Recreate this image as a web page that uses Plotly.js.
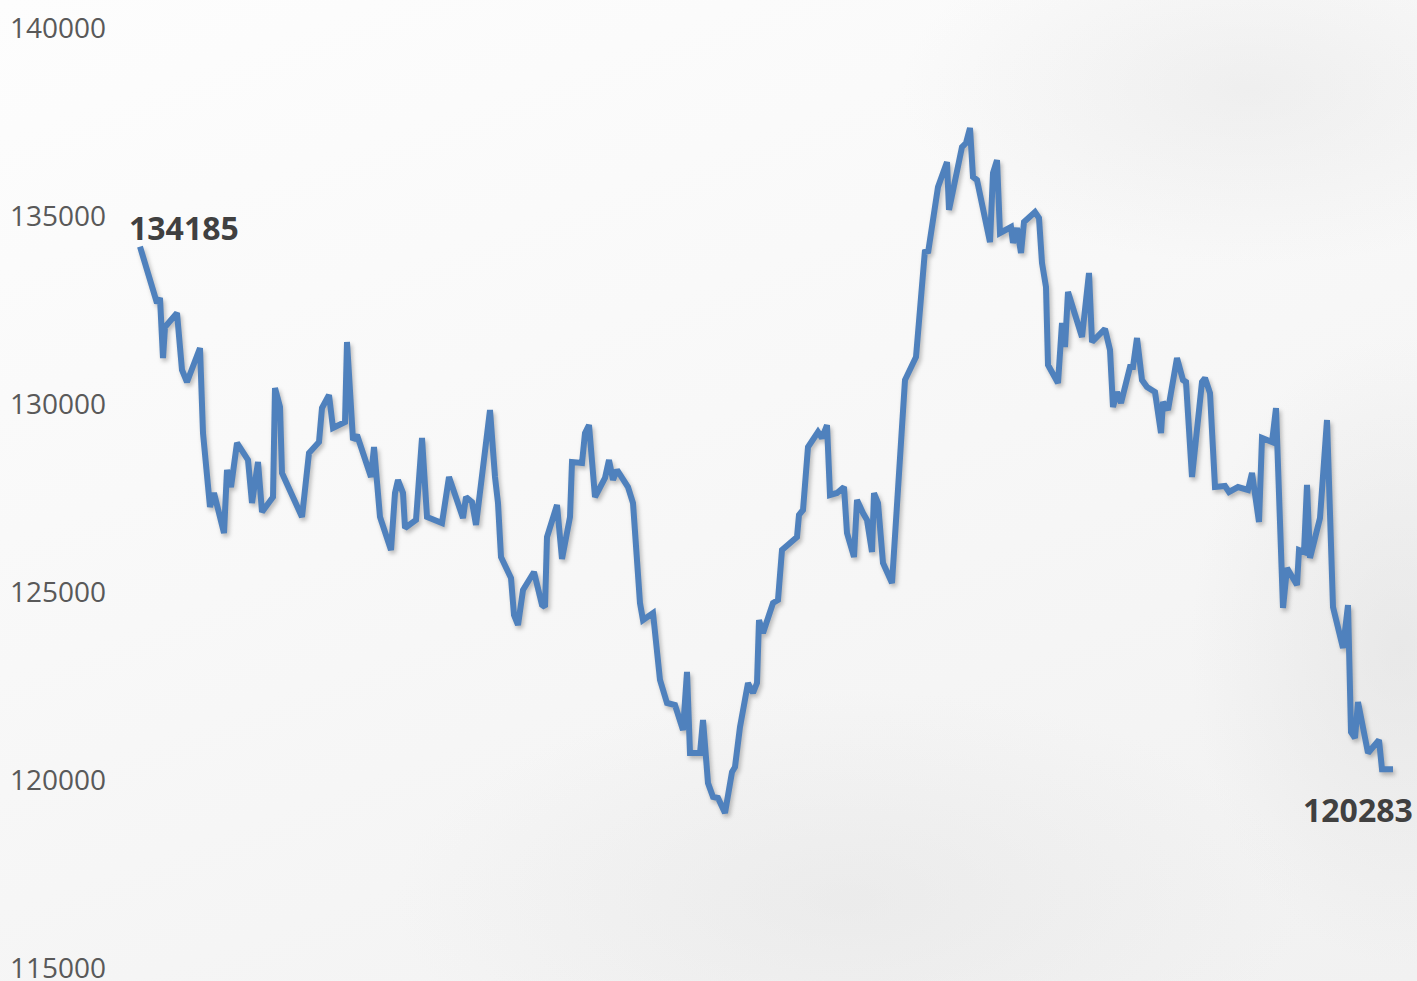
<!DOCTYPE html>
<html>
<head>
<meta charset="utf-8">
<script src="https://cdn.plot.ly/plotly-3.0.1.min.js"></script>
<style>
  html, body { margin: 0; padding: 0; width: 1417px; height: 981px; overflow: hidden; }
  body {
    background:
      radial-gradient(ellipse 500px 250px at 1250px 90px, rgba(215,215,215,0.30), rgba(215,215,215,0) 70%),
      radial-gradient(ellipse 650px 300px at 850px 900px, rgba(220,220,220,0.35), rgba(220,220,220,0) 70%),
      radial-gradient(ellipse 300px 450px at 1400px 650px, rgba(215,215,215,0.40), rgba(215,215,215,0) 70%),
      linear-gradient(160deg, #fdfdfd 0%, #f8f8f8 45%, #f1f1f1 100%);
  }
  #chart { width: 1417px; height: 981px; }
  .scatterlayer .js-line { filter: drop-shadow(2px 3px 2px rgba(0,0,0,0.25)); }
</style>
</head>
<body>
<div id="chart"></div>
<script>
const days = [0,17,20,23,25,37,42,47,60,63,70,74,84,87,91,97,108,112,118,122,133,135,140,142,162,169,179,182,189,193,205,207,213,217,231,234,240,251,255,258,263,265,276,282,287,297,302,309,323,326,332,336,350,355,358,361,371,374,378,383,394,402,405,407,417,422,430,432,442,445,449,455,465,469,473,477,488,493,497,500,503,513,520,527,535,543,547,550,560,563,568,573,578,585,592,595,600,608,613,617,619,623,633,638,642,647,657,659,663,668,678,682,687,690,697,704,707,714,717,723,727,732,734,738,743,752,765,776,785,788,798,807,809,822,826,830,833,837,850,853,857,860,871,873,877,881,884,895,899,902,906,908,918,922,925,928,937,942,949,952,965,970,973,977,981,990,993,997,1002,1007,1015,1021,1023,1028,1037,1043,1046,1052,1062,1065,1070,1075,1085,1089,1098,1108,1112,1119,1122,1132,1136,1143,1147,1157,1159,1164,1167,1170,1180,1187,1193,1203,1208,1211,1215,1218,1228,1239,1242,1253];

const values = [134185,132686,132819,131223,132048,132420,130904,130585,131489,129229,127261,127633,126569,128245,127792,128963,128511,127367,128457,127128,127526,130425,129920,128165,126995,128697,128989,129894,130239,129362,129521,131649,129042,129175,128058,128856,126995,126117,127633,127979,127633,126702,126915,129096,126995,126915,126835,128058,126968,127526,127394,126782,129840,128058,127367,125931,125372,124388,124122,125053,125532,124654,124601,126463,127314,125878,126995,128457,128431,129229,129441,127526,128032,128511,127979,128245,127792,127367,125585,124707,124255,124441,122660,122048,121995,121330,122873,120718,120718,121596,119920,119548,119521,119122,120213,120346,121410,122580,122314,122580,124255,123909,124707,124787,126117,126250,126463,127048,127181,128856,129255,129096,129441,127580,127633,127792,126569,125931,127447,127101,126915,126064,127633,127367,125771,125239,130638,131250,134096,134016,135771,136436,135160,136835,136941,137340,136037,135957,134308,136144,136489,134548,134707,134282,134681,134016,134840,135106,134947,133750,133112,131037,130558,132154,131516,132979,132234,131782,133484,131649,131995,131436,129920,130319,130026,130984,130984,131755,130638,130452,130319,129229,130053,129840,131223,130638,130585,128058,130585,130691,130292,127792,127820,127660,127792,127713,128165,126862,129096,128989,129894,124574,125638,125186,126117,126064,127846,125905,126968,129574,124601,123511,124654,121277,121117,122075,120718,121064,120283,120283];

const tickValues = [115000,120000,125000,130000,135000,140000];
const tickLabels = ['115000','120000','125000','130000','135000','140000'];
const firstLabel = '134185';
const lastLabel = '120283';

const trace = {
  x: days,
  y: values,
  type: 'scatter',
  mode: 'lines',
  line: { color: '#4f81bd', width: 6, shape: 'linear' },
  hoverinfo: 'y'
};

const n = values.length;
const layout = {
  width: 1417,
  height: 981,
  margin: { l: 115, r: 0, t: 28, b: 13, pad: 0 },
  paper_bgcolor: 'rgba(0,0,0,0)',
  plot_bgcolor: 'rgba(0,0,0,0)',
  showlegend: false,
  xaxis: {
    range: [-25, 1277],
    visible: false,
    showgrid: false,
    zeroline: false,
    fixedrange: true
  },
  yaxis: {
    range: [115000, 140000],
    tickvals: tickValues,
    ticktext: tickLabels,
    showgrid: false,
    zeroline: false,
    showline: false,
    ticks: '',
    ticklabelstandoff: 8,
    ticklabeloverflow: 'allow',
    tickfont: { family: 'Open Sans, sans-serif', size: 28, color: '#595959' },
    fixedrange: true
  },
  annotations: [
    {
      x: days[0], y: values[0], xref: 'x', yref: 'y',
      text: '<b>' + firstLabel + '</b>', showarrow: false,
      xanchor: 'center', yanchor: 'middle', xshift: 44, yshift: 19,
      font: { family: 'Open Sans, sans-serif', size: 32, color: '#404040' }
    },
    {
      x: days[n - 1], y: values[n - 1], xref: 'x', yref: 'y',
      text: '<b>' + lastLabel + '</b>', showarrow: false,
      xanchor: 'center', yanchor: 'middle', xshift: -35, yshift: -40,
      font: { family: 'Open Sans, sans-serif', size: 32, color: '#404040' }
    }
  ]
};

Plotly.newPlot('chart', [trace], layout, { displayModeBar: false, staticPlot: true });
</script>
</body>
</html>
